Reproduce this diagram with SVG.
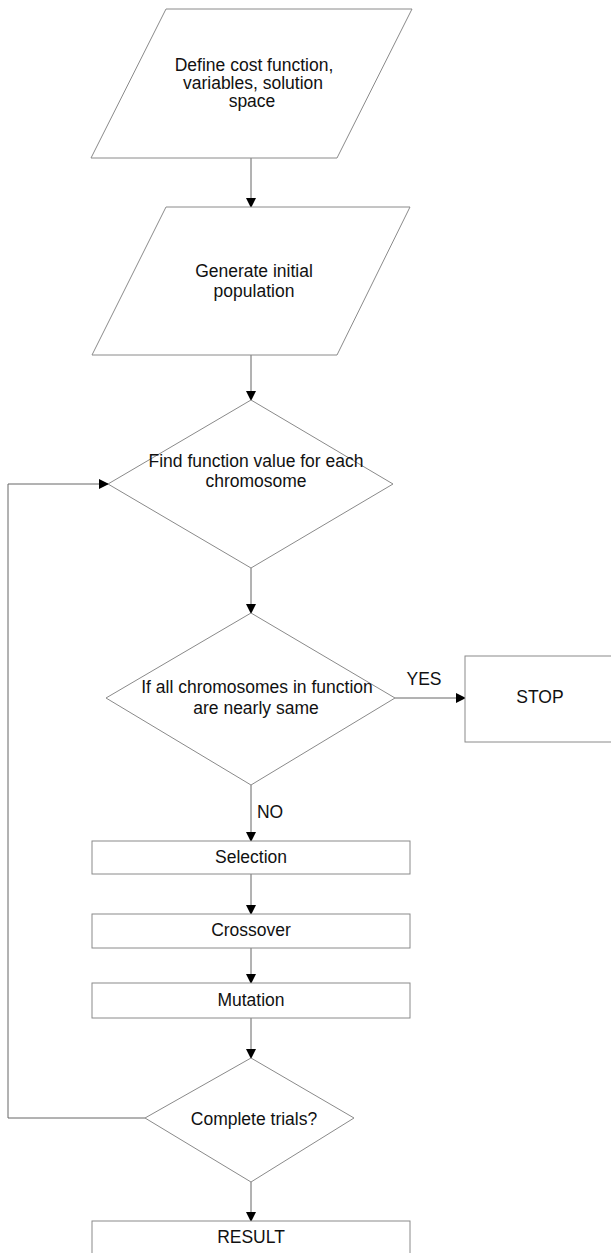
<svg xmlns="http://www.w3.org/2000/svg" width="611" height="1253" viewBox="0 0 611 1253">
<defs>
<marker id="ah" markerWidth="10" markerHeight="10" refX="9" refY="5" orient="auto" markerUnits="userSpaceOnUse">
<path d="M0,0 L10,5 L0,10 z" fill="#000"/>
</marker>
<style>
.s{fill:#fff;stroke:#8a8a8a;stroke-width:1}
.c{fill:none;stroke:#666;stroke-width:1;marker-end:url(#ah)}
text{font-family:"Liberation Sans",Arial,sans-serif;font-size:17.5px;fill:#111;text-anchor:middle}
</style>
</defs>
<rect width="611" height="1253" fill="#fff"/>
<g id="connectors">
<line class="c" x1="251" y1="158" x2="251" y2="207"/>
<line class="c" x1="251" y1="355" x2="251" y2="400"/>
<line class="c" x1="251" y1="568" x2="251" y2="613"/>
<line class="c" x1="395" y1="698" x2="465" y2="698"/>
<line class="c" x1="251" y1="785" x2="251" y2="841"/>
<line class="c" x1="251" y1="874" x2="251" y2="914"/>
<line class="c" x1="251" y1="948" x2="251" y2="983"/>
<line class="c" x1="251" y1="1018" x2="251" y2="1058"/>
<line class="c" x1="251" y1="1182" x2="251" y2="1221"/>
<polyline class="c" points="145,1118 8,1118 8,484 108,484"/>
<text x="424" y="685">YES</text>
<text x="270" y="818">NO</text>
</g>
<g id="n1">
<polygon class="s" points="166,9 412,9 337,158 91,158"/>
<text x="254" y="71">Define cost function,</text>
<text x="253" y="89">variables, solution</text>
<text x="252" y="107">space</text>
</g>
<g id="n2">
<polygon class="s" points="166,207 410,207 337,355 92,355"/>
<text x="254" y="277">Generate initial</text>
<text x="254" y="297">population</text>
</g>
<g id="n3">
<polygon class="s" points="251,400 393,484 251,568 108,484"/>
<text x="256" y="467">Find function value for each</text>
<text x="256" y="487">chromosome</text>
</g>
<g id="n4">
<polygon class="s" points="251,613 395,698 251,785 106,698"/>
<text x="257" y="693">If all chromosomes in function</text>
<text x="256" y="714">are nearly same</text>
</g>
<g id="n5">
<rect class="s" x="465" y="656" width="160" height="86"/>
<text x="540" y="703">STOP</text>
</g>
<g id="n6">
<rect class="s" x="92" y="841" width="318" height="33"/>
<text x="251" y="863">Selection</text>
</g>
<g id="n7">
<rect class="s" x="92" y="914" width="318" height="34"/>
<text x="251" y="936">Crossover</text>
</g>
<g id="n8">
<rect class="s" x="92" y="983" width="318" height="35"/>
<text x="251" y="1006">Mutation</text>
</g>
<g id="n9">
<polygon class="s" points="251,1058 354,1118 251,1182 145,1118"/>
<text x="254" y="1125">Complete trials?</text>
</g>
<g id="n10">
<rect class="s" x="92" y="1221" width="318" height="40"/>
<text x="251" y="1243">RESULT</text>
</g>
</svg>
